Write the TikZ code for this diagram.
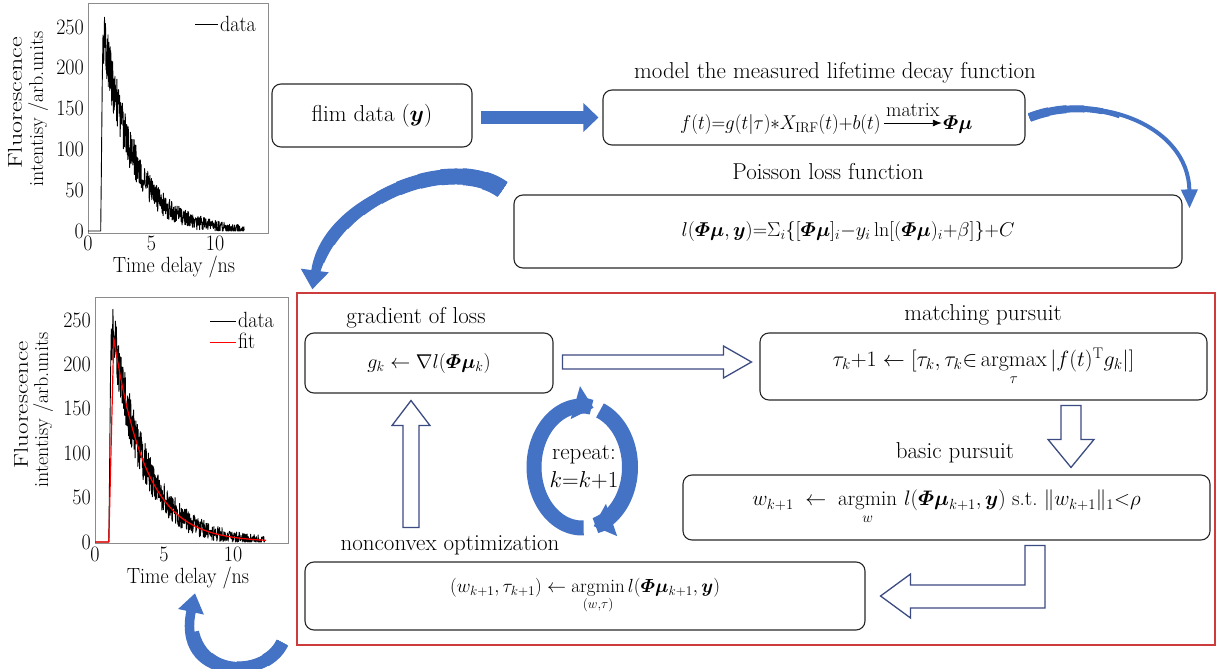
\RequirePackage{fix-cm}
\documentclass[tikz,border=0pt]{standalone}
\usepackage{amsmath}
\usepackage{bm}
\usepackage{graphicx}
\usepackage{fontspec}
\usetikzlibrary{arrows.meta,calc}
\definecolor{ablue}{RGB}{68,114,196}
\definecolor{hollowc}{RGB}{60,75,130}
\definecolor{frred}{RGB}{205,60,60}
\definecolor{boxc}{RGB}{40,40,40}
\definecolor{plotg}{RGB}{140,140,140}
\begin{document}
\begin{tikzpicture}[x=1pt,y=-1pt,
  box/.style={draw=boxc,line width=1.1pt,rounded corners=9pt,fill=white,inner sep=0pt},
  lbl/.style={font=\fontsize{23}{28}\selectfont,inner sep=0pt},
  tick/.style={font=\fontsize{20}{24}\selectfont,inner sep=0pt,yscale=1.1},
  ylab/.style={font=\fontsize{20}{24}\selectfont,inner sep=0pt},
  barrow/.style={ablue,line width=13pt,-{Triangle[width=28pt,length=15pt]}},
  carrow/.style={ablue,-{Triangle[width=#1,length=19pt]}},
  hollow/.style={draw=hollowc,line width=1.3pt,fill=white,line join=miter},
  frame/.style={draw=plotg,line width=1pt}
]
\useasboundingbox (0,0) rectangle (1224,669);
\fill[white] (0,0) rectangle (1224,669);

% ---------- plot 1 ----------
\draw[frame] (88,233) rectangle (268,4);
\pgfmathsetseed{3}
\begin{scope}[shift={(88,231)},x={(12.7pt,0pt)},y={(0pt,0.816pt)}]
  \draw[line width=0.9pt,line join=round] (0,0) -- (1.0,0) -- (1.05,70) -- (1.12,180) -- (1.18,240) -- (1.24,205) -- (1.3,262) -- (1.34,225)
    -- plot[domain=1.36:12.3,samples=560] (\x,{max(0,232*exp(-(\x-1.36)/2.35)+rand*(2.3*sqrt(232*exp(-(\x-1.36)/2.35))+1.5))});
\end{scope}
\foreach \v in {0,50,...,250} \node[tick,anchor=east] at (84,{231-0.816*\v}) {\v};
\foreach \v/\p in {0/88,5/151.5,10/215} \node[tick] at (\p,243) {\v};
\node[tick] (t1) at (174,267) {Time delay /ns};
\node[ylab] (f1) at (15,103) {\rotatebox{90}{\scalebox{1.3}[1]{Fluorescence}}};
\node[ylab] (i1) at (38,109) {\rotatebox{90}{intentisy /arb.units}};
\draw[line width=1pt] (195,25) -- (218,25);
\node[tick,anchor=west] at (220,24) {data};

% ---------- plot 2 ----------
\draw[frame] (95,543) rectangle (288,297);
\pgfmathsetseed{11}
\begin{scope}[shift={(95,542)},x={(13.8pt,0pt)},y={(0pt,0.888pt)}]
  \draw[line width=0.9pt,line join=round] (0,0) -- (1.0,0) -- (1.05,70) -- (1.12,180) -- (1.18,240) -- (1.24,205) -- (1.3,262) -- (1.34,225)
    -- plot[domain=1.36:12.3,samples=560] (\x,{max(0,232*exp(-(\x-1.36)/2.35)+rand*(2.3*sqrt(232*exp(-(\x-1.36)/2.35))+1.5))});
  \draw[red,line width=1.2pt,line join=round] (0,0) -- (1.0,0) -- (1.36,230)
    -- plot[domain=1.36:12.4,samples=120] (\x,{230*exp(-(\x-1.36)/2.3)});
\end{scope}
\foreach \v in {0,50,...,250} \node[tick,anchor=east] at (91,{542-0.888*\v}) {\v};
\foreach \v/\p in {0/95,5/164,10/233} \node[tick] at (\p,554) {\v};
\node[tick] (t2) at (188,578) {Time delay /ns};
\node[ylab] (f2) at (21,405) {\rotatebox{90}{\scalebox{1.25}[1]{Fluorescence}}};
\node[ylab] (i2) at (43,410) {\rotatebox{90}{intentisy /arb.units}};
\draw[line width=1pt] (210,321) -- (236,321);
\node[tick,anchor=west] at (238,320) {data};
\draw[red,line width=1pt] (210,342) -- (236,342);
\node[tick,anchor=west] at (238,341) {fit};

% ---------- top row ----------
\node[box,minimum width=200pt,minimum height=63pt,lbl] (flim) at (372,115.5) {flim data ($\bm{y}$)};
\node[lbl] (lmodel) at (835,73) {model the measured lifetime decay function};
\node[box,minimum width=422pt,minimum height=55pt] (model) at (814,117.5) {};
\node[font=\fontsize{20}{24}\selectfont,inner sep=0pt,anchor=base west,xscale=0.95] (mf) at (680,129)
  {$f(t){=}g(t|\tau){*}X_{\mathrm{IRF}}(t){+}b(t)$};
\node[font=\fontsize{20}{24}\selectfont,inner sep=0pt,anchor=base west] (mphi) at ($(mf.base east)+(62,0)$) {$\bm{\varPhi\mu}$};
\draw[line width=0.9pt,-{Latex[length=9pt,width=7pt]}] ($(mf.base east)+(3,-6)$) -- ($(mphi.base west)+(-1,-6)$)
  node[midway,above=6pt,font=\fontsize{20}{22}\selectfont,inner sep=0pt] (mtx) {matrix};
\node[lbl] (lpois) at (828,172) {Poisson loss function};
\node[box,minimum width=668pt,minimum height=73pt,font=\fontsize{20}{24}\selectfont] (poisson) at (848,231.5)
  {$l(\bm{\varPhi\mu},\bm{y}){=}\Sigma_i\{[\bm{\varPhi\mu}]_i{-}y_i\ln[(\bm{\varPhi\mu})_i{+}\beta]\}{+}C$};

% ---------- red frame ----------
\node[draw=frred,line width=1.3pt,minimum width=918pt,minimum height=352pt,inner sep=0pt] (rframe) at (756,469) {};

\node[lbl] (lgrad) at (416,318) {gradient of loss};
\node[box,minimum width=248pt,minimum height=60pt,font=\fontsize{20}{24}\selectfont] (grad) at (429,363)
  {$g_k\leftarrow\nabla l(\bm{\varPhi\mu}_k)$};
\node[lbl] (lmatch) at (983,315) {matching pursuit};
\node[box,minimum width=447pt,minimum height=67pt,font=\fontsize{22}{26}\selectfont] (match) at (983.5,366.5)
  {$\tau_k{+}1\leftarrow[\tau_k,\tau_k{\in}\operatorname*{argmax}\limits_{\tau}|f(t)^{\mathrm{T}}g_k|]$};
\node[lbl] (lbasic) at (955,453) {basic pursuit};
\node[box,minimum width=527pt,minimum height=65pt,font=\fontsize{21}{25}\selectfont] (basic) at (946.5,507.5)
  {$w_{k+1}\;\leftarrow\;\operatorname*{argmin}\limits_{w}\, l(\bm{\varPhi\mu}_{k+1},\bm{y})\ \text{s.t.}\ \|w_{k+1}\|_1{<}\rho$};
\node[lbl] (lnon) at (450,545) {nonconvex optimization};
\node[box,minimum width=560pt,minimum height=68pt,font=\fontsize{19}{23}\selectfont] (non) at (585,596)
  {$(w_{k+1},\tau_{k+1})\leftarrow\operatorname*{argmin}\limits_{(w,\tau)} l(\bm{\varPhi\mu}_{k+1},\bm{y})$};
\node[lbl,align=center] (rep) at (584,467) {repeat:\\$k{=}k{+}1$};

% ---------- blue arrows ----------
\draw[barrow] ($(flim.east |- model.west)+(8,0)$) -- ($(model.west)+(-4,0)$);

\def\curveA{($(model.east)+(4,0)$) .. controls ($(model.east)+(70,-26)$) and ($(poisson.north east)+(6,-70)$) .. ($(poisson.north east)+(7,14)$)}
\foreach \i [evaluate=\i as \w using 9-\i, evaluate=\i as \l using 20+18*\i] in {0,...,4}
  \draw[ablue,line width=\w pt,dash pattern=on \l pt off 3000pt] \curveA;
\draw[carrow=16pt,line width=4pt] \curveA;

\def\curveB{($(poisson.north west)+(-11,-5)$) .. controls ($(poisson.north west)+(-62,-42)$) and ($(rframe.north west)+(28,-95)$) .. ($(rframe.north west)+(16,-3)$)}
\foreach \i [evaluate=\i as \w using 18-\i, evaluate=\i as \l using 20+22*\i] in {0,...,10}
  \draw[ablue,line width=\w pt,dash pattern=on \l pt off 3000pt] \curveB;
\draw[carrow=27pt,line width=7pt] \curveB;

\def\curveC{($(rframe.south west)+(-14,-3)$) .. controls ($(rframe.south west)+(-32,36)$) and ($(t2.south)+(-12,92)$) .. ($(t2.south)+(7,4)$)}
\foreach \i [evaluate=\i as \w using 13-\i, evaluate=\i as \l using 25+30*\i] in {0,...,3}
  \draw[ablue,line width=\w pt,dash pattern=on \l pt off 3000pt] \curveC;
\draw[carrow=25pt,line width=9.5pt] \curveC;

% repeat loop arcs
\draw[ablue,line width=15pt,-{Triangle[width=33pt,length=19pt]}] plot[domain=88:284,samples=70] ({582+48*cos(\x)},{467+61*sin(\x)});
\draw[ablue,line width=16pt,-{Triangle[width=33pt,length=19pt]}] plot[domain=292:436,samples=60] ({582+48*cos(\x)},{467+61*sin(\x)});

% ---------- hollow arrows ----------
\coordinate (rt) at ($(grad.east)+(9,-1)$);
\coordinate (rh) at ($(match.west |- rt)+(-8,0)$);
\draw[hollow] ($(rt)+(0,-7)$) -- ($(rh)+(-28,-7)$) -- ($(rh)+(-28,-16)$) -- (rh) -- ($(rh)+(-28,16)$) -- ($(rh)+(-28,7)$) -- ($(rt)+(0,7)$) -- cycle;

\coordinate (dt) at ($(match.south)+(87.5,5)$);
\coordinate (dh) at ($(dt |- basic.north)+(0,-7)$);
\draw[hollow] ($(dt)+(-10,0)$) -- ($(dh)+(-10,-28)$) -- ($(dh)+(-23,-28)$) -- (dh) -- ($(dh)+(23,-28)$) -- ($(dh)+(10,-28)$) -- ($(dt)+(10,0)$) -- cycle;

\coordinate (lt) at ($(basic.south)+(88.5,5)$);
\coordinate (lh) at ($(non.east)+(15,0)$);
\draw[hollow] ($(lt)+(-10,0)$) -- ($(lt)+(10,0)$) -- ($(lt |- lh)+(10,12)$) -- ($(lh)+(30,12)$) -- ($(lh)+(30,22)$) -- (lh) -- ($(lh)+(30,-22)$) -- ($(lh)+(30,-11)$) -- ($(lt |- lh)+(-10,-11)$) -- cycle;

\coordinate (ut) at ($(grad.south)+(-18,7)$);
\coordinate (ub) at ($(ut)+(0,127)$);
\draw[hollow] ($(ub)+(-8,0)$) -- ($(ut)+(-8,25)$) -- ($(ut)+(-19,25)$) -- (ut) -- ($(ut)+(19,25)$) -- ($(ut)+(8,25)$) -- ($(ub)+(8,0)$) -- cycle;
\end{tikzpicture}
\end{document}
